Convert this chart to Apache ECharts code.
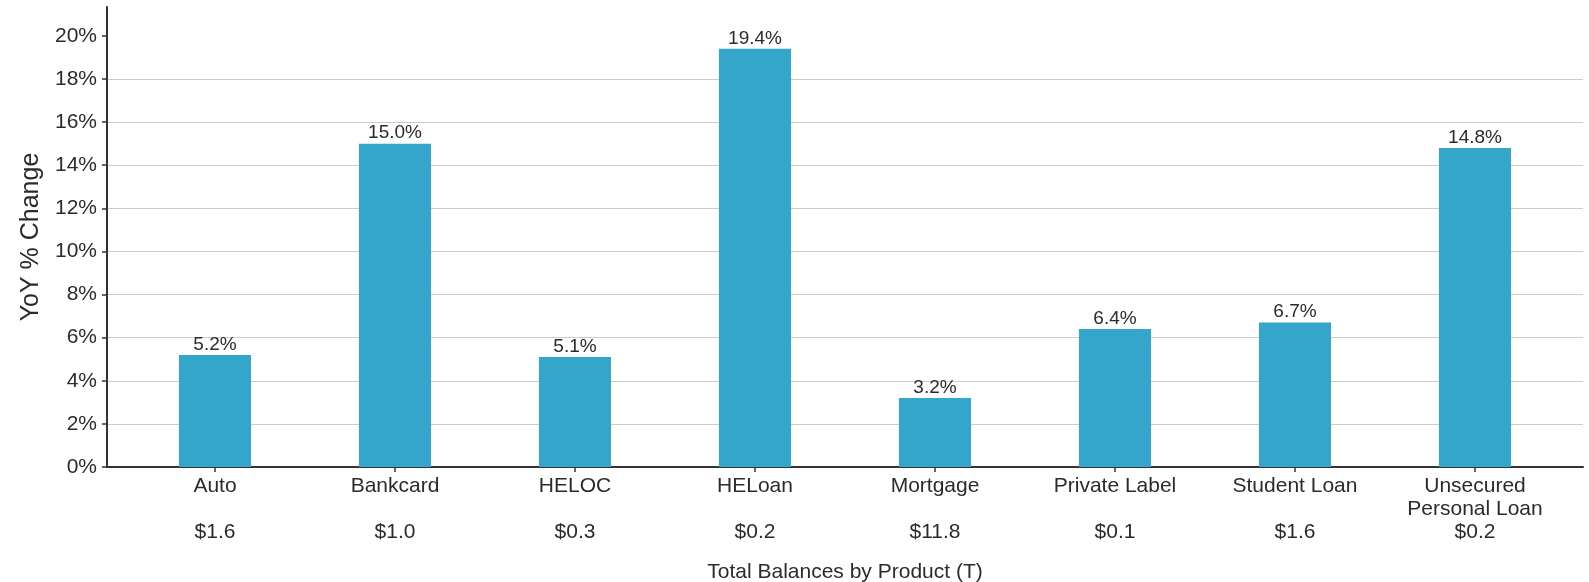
<!DOCTYPE html>
<html>
<head>
<meta charset="utf-8">
<title>YoY % Change by Product</title>
<script src="https://cdn.jsdelivr.net/npm/echarts@6/dist/echarts.min.js"></script>
<style>
  html, body { margin: 0; padding: 0; background: #fff; }
  #chart { width: 1589px; height: 582px; }
</style>
</head>
<body>
<div id="chart"></div>
<script>
// Product categories, total balances (trillions) and year-over-year change (%)
const products = ['Auto', 'Bankcard', 'HELOC', 'HELoan', 'Mortgage', 'Private Label', 'Student Loan', 'Unsecured\nPersonal Loan'];
const balances = ['$1.6', '$1.0', '$0.3', '$0.2', '$11.8', '$0.1', '$1.6', '$0.2'];
const yoyChange = [5.2, 15.0, 5.1, 19.4, 3.2, 6.4, 6.7, 14.8];
const yTicks = [0, 2, 4, 6, 8, 10, 12, 14, 16, 18, 20];

const FONT = "'Liberation Sans', Arial, Helvetica, sans-serif";
const TEXT = '#2b2b2b';

const positions = products.map((_, i) => i);
const barData = yoyChange.map((v, i) => [i, v]);

const chart = echarts.init(document.getElementById('chart'), null, { renderer: 'canvas' });

chart.setOption({
  backgroundColor: '#ffffff',
  animation: false,
  textStyle: { fontFamily: FONT, color: TEXT },
  grid: { left: 107, right: 6, top: 7, bottom: 115, containLabel: false, outerBoundsMode: 'none' },
  xAxis: {
    type: 'value',
    min: -0.6,
    max: products.length - 1 + 0.6,
    name: 'Total Balances by Product (T)',
    nameLocation: 'middle',
    nameGap: 95,
    nameTextStyle: { fontFamily: FONT, fontSize: 21, color: TEXT },
    axisLine: { show: true, onZero: false, lineStyle: { color: '#333', width: 2 } },
    axisTick: { show: true, length: 5, customValues: positions, lineStyle: { color: '#333', width: 1.5 } },
    axisLabel: {
      customValues: positions,
      margin: 8,
      fontFamily: FONT,
      fontSize: 21,
      color: TEXT,
      lineHeight: 23,
      verticalAlign: 'top',
      formatter: (v) => {
        const i = Math.round(v);
        const name = products[i];
        const gap = name.indexOf('\n') >= 0 ? '\n' : '\n\n';
        return name + gap + balances[i];
      }
    },
    splitLine: { show: false }
  },
  yAxis: {
    type: 'value',
    min: 0,
    max: 21.34,
    interval: 2,
    name: 'YoY % Change',
    nameLocation: 'middle',
    nameGap: 63,
    nameRotate: 90,
    nameTextStyle: { fontFamily: FONT, fontSize: 25, color: TEXT },
    axisLine: { show: true, onZero: false, lineStyle: { color: '#333', width: 2 } },
    axisTick: { show: true, length: 5, customValues: yTicks, lineStyle: { color: '#333', width: 1.5 } },
    axisLabel: {
      customValues: yTicks,
      margin: 10,
      fontFamily: FONT,
      fontSize: 21,
      color: TEXT,
      formatter: (v) => v + '%'
    },
    splitLine: { show: true, showMinLine: false, showMaxLine: false, lineStyle: { color: '#cccccc', width: 1.2 } }
  },
  series: [{
    type: 'bar',
    data: barData,
    barWidth: 72,
    itemStyle: { color: '#35a6cb' },
    label: {
      show: true,
      position: 'top',
      distance: 1,
      fontFamily: FONT,
      fontSize: 19,
      color: TEXT,
      formatter: (p) => p.value[1].toFixed(1) + '%'
    }
  }]
});
</script>
</body>
</html>
